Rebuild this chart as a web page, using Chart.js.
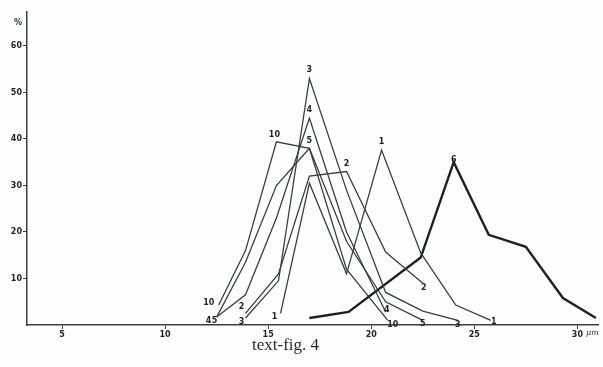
<!DOCTYPE html>
<html>
<head>
<meta charset="utf-8">
<script src="https://cdn.jsdelivr.net/npm/chart.js@4.4.1/dist/chart.umd.min.js"></script>
<style>
html,body{margin:0;padding:0;background:#fdfefd;}
#wrap{position:relative;width:603px;height:367px;overflow:hidden;background:#fdfefd;}
#c{position:absolute;left:0;top:0;}
.t{position:absolute;color:#1f2a24;white-space:nowrap;}
</style>
</head>
<body>
<div id="wrap">
<canvas id="c" width="603" height="367"></canvas>
<div class="t" style="left:14px;top:18px;font:bold 8px 'DejaVu Sans';">%</div>
<div class="t" style="left:586px;top:328px;font:italic 8px 'DejaVu Serif';">μm</div>
<div class="t" id="cap" style="left:252px;top:335px;font:17px 'Liberation Serif';">text-fig. 4</div>
</div>
<script>
// tick values
const xTicks = [5, 10, 15, 20, 25, 30];
const yTicks = [10, 20, 30, 40, 50, 60];

// series (x in µm, y in %)
const s1x = [15.6, 17.0, 18.8, 20.5, 22.4, 24.1, 25.8];
const s1y = [2.5, 30.5, 11, 37.6, 15.5, 4.3, 1];
const s2x = [13.9, 15.5, 17.0, 18.8, 20.7, 22.5];
const s2y = [2.5, 11, 32, 33, 15.7, 9];
const s3x = [13.9, 15.5, 17.0, 18.8, 20.7, 22.5, 24.2];
const s3y = [1.5, 9.5, 53, 29, 7, 3, 1];
const s4x = [12.5, 13.9, 15.4, 17.0, 18.8, 20.7];
const s4y = [1.7, 6.5, 23, 44.5, 20, 2.8];
const s5x = [12.5, 13.9, 15.4, 17.0, 18.8, 20.7, 22.5];
const s5y = [1.7, 13.5, 30, 38, 18, 5, 1];
const s6x = [17.0, 18.9, 22.4, 24.0, 25.7, 27.5, 29.3, 30.9];
const s6y = [1.5, 2.8, 14.5, 35, 19.4, 16.8, 5.8, 1.5];
const s10x = [12.6, 13.9, 15.4, 17.0, 18.8, 20.8];
const s10y = [4.3, 16, 39.4, 38, 12, 1];

const seriesNames = ['1', '2', '3', '4', '5', '6', '10'];
const seriesX = [s1x, s2x, s3x, s4x, s5x, s6x, s10x];
const seriesY = [s1y, s2y, s3y, s4y, s5y, s6y, s10y];

const pts = (xs, ys) => xs.map((x, i) => ({x: x, y: ys[i]}));

const ink = '#34423a';
const datasets = seriesNames.map((n, i) => ({
  label: n,
  data: pts(seriesX[i], seriesY[i]),
  borderColor: n === '6' ? '#1c221e' : ink,
  borderWidth: n === '6' ? 2.4 : 1.3,
  pointRadius: 0,
  fill: false,
  tension: 0
}));

// curve labels: [series name, point index ('first','last','max'), dx, dy]
const curveLabels = [
  ['1', 'first', -6, 4], ['1', 'max', 0, -8], ['1', 'last', 3, 2],
  ['2', 'first', -4, -6], ['2', 3, 0, -8], ['2', 'last', 1, 5],
  ['3', 'first', -4, 4], ['3', 'max', 0, -9], ['3', 'last', 0, 5],
  ['4', 'first', -8, 4], ['4', 'max', 0, -8], ['4', 'last', 1, -2],
  ['5', 'first', -2, 4], ['5', 'max', 0, -7], ['5', 'last', 0, 4],
  ['10', 'first', -10, -2], ['10', 'max', -2, -7], ['10', 'last', 5, 5],
  ['6', 'max', 0, -2]
];

const labelPlugin = {
  id: 'curveLabels',
  afterDatasetsDraw(chart) {
    const ctx = chart.ctx;
    const xs = chart.scales.x, ys = chart.scales.y;
    ctx.save();
    ctx.fillStyle = '#1c241f';
    ctx.font = 'bold 8px "DejaVu Sans"';
    ctx.textAlign = 'center';
    ctx.textBaseline = 'middle';
    curveLabels.forEach(([name, which, dx, dy]) => {
      const k = seriesNames.indexOf(name);
      const X = seriesX[k], Y = seriesY[k];
      let idx = which;
      if (which === 'first') idx = 0;
      else if (which === 'last') idx = X.length - 1;
      else if (which === 'max') idx = Y.indexOf(Math.max(...Y));
      ctx.fillText(name, xs.getPixelForValue(X[idx]) + dx, ys.getPixelForValue(Y[idx]) + dy);
    });
    ctx.restore();
  }
};

new Chart(document.getElementById('c'), {
  type: 'line',
  data: {datasets: datasets},
  options: {
    responsive: false,
    animation: false,
    layout: {padding: {left: 0, top: 12, right: 5, bottom: 22}},
    plugins: {legend: {display: false}, tooltip: {enabled: false}},
    scales: {
      x: {
        type: 'linear', min: 3.3, max: 31.0,
        afterFit: s => { s.height = 20; },
        afterBuildTicks: s => { s.ticks = xTicks.map(v => ({value: v})); },
        grid: {drawOnChartArea: false, drawTicks: true, tickLength: 4, color: ink, lineWidth: 1},
        border: {display: true, color: ink, width: 1.5},
        ticks: {color: '#1c241f', font: {family: 'DejaVu Sans', size: 8, weight: 'bold'}, padding: 1, maxRotation: 0}
      },
      y: {
        type: 'linear', min: 0, max: 67.3,
        afterFit: s => { s.width = 27; },
        afterBuildTicks: s => { s.ticks = yTicks.map(v => ({value: v})); },
        grid: {drawOnChartArea: false, drawTicks: true, tickLength: 4, color: ink, lineWidth: 1},
        border: {display: true, color: ink, width: 1.5},
        ticks: {color: '#1c241f', font: {family: 'DejaVu Sans', size: 8, weight: 'bold'}, padding: 1}
      }
    }
  },
  plugins: [labelPlugin]
});
</script>
</body>
</html>
